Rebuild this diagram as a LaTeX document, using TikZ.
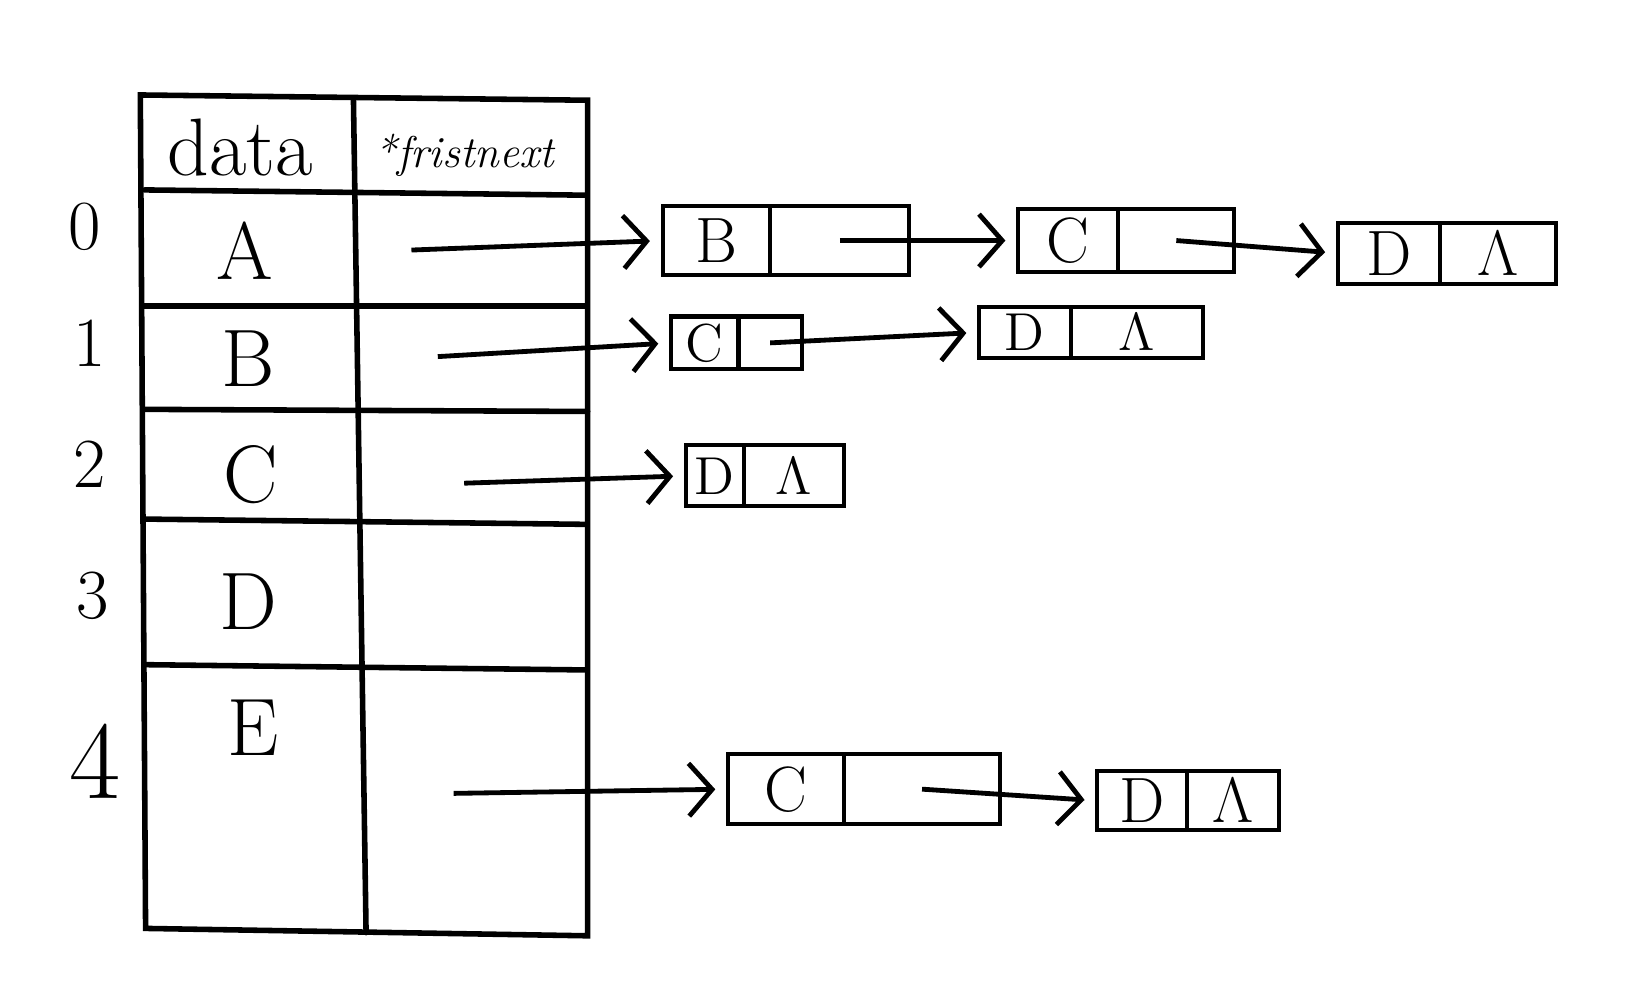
\documentclass[tikz,border=0pt]{standalone}
\usetikzlibrary{arrows.meta, positioning}

\begin{document}
\begin{tikzpicture}[x=0.1mm, y=-0.1mm]
    % --- Style Definitions ---
    \tikzset{
        table line/.style={draw=black, line width=1.5pt, line cap=round},
        index text/.style={font=\fontsize{19}{23}\selectfont},
        head text/.style={font=\fontsize{22}{26}\selectfont},
        cell text/.style={font=\fontsize{22}{26}\selectfont},
        data field/.style={draw=black, line width=1.1pt, inner sep=0pt, outer sep=0pt, font=\LARGE},
        small field/.style={data field, font=\Large},
        link arrow/.style={-{Straight Barb[length=2.2mm, width=5mm]}, line width=1.3pt, shorten >=1.2mm}
    }

    \useasboundingbox (0,0) rectangle (1564,948);

    % ==========================================
    % TABLE
    % ==========================================
    % 1. Outer frame and column divider
    \draw[table line] (133,90) -- (557,95) -- (557,887) -- (138,880) -- cycle;
    \draw[table line] (335,93) -- (347,884);

    % 2. Row lines
    \draw[table line] (137,180) -- (555,185);
    \draw[table line] (137,290) -- (555,290);
    \draw[table line] (137,388) -- (557,390);
    \draw[table line] (137,492) -- (555,497);
    \draw[table line] (137,630) -- (555,635);

    % 3. Header
    \node[head text] (hd_data) at (228,140) {data};
    \node[font=\large\itshape, anchor=west] (hd_next) at (343,147) {*fristnext};

    % 4. Indices and vertices
    \node[index text] (idx_0) at (80,215) {0};
    \node[index text] (idx_1) at (85,325) {1};
    \node[index text] (idx_2) at (85,440) {2};
    \node[index text] (idx_3) at (88,565) {3};
    \node[index text, font=\fontsize{30}{34}\selectfont] (idx_4) at (90,722) {4};

    \node[cell text] (v_0) at (232,238) {A};
    \node[cell text] (v_1) at (235,340) {B};
    \node[cell text] (v_2) at (238,450) {C};
    \node[cell text] (v_3) at (235,570) {D};
    \node[cell text] (v_4) at (240,690) {E};

    % 5. Pointer starts
    \coordinate (ptr_0) at (390,237);
    \coordinate (ptr_1) at (415,338);
    \coordinate (ptr_2) at (440,458);
    \coordinate (ptr_4) at (430,752);

    % ==========================================
    % EDGE LISTS
    % ==========================================
    % Row 0: B -> C -> D
    \node[data field, minimum width=10.2mm, minimum height=6.5mm, anchor=west] (n0_b) at (628,228) {B};
    \node[data field, minimum width=13.2mm, minimum height=6.5mm, right=0pt of n0_b] (n0_bp) {};
    \node[data field, minimum width=9.5mm, minimum height=6mm, anchor=west] (n0_c) at (965,228) {C};
    \node[data field, minimum width=11mm, minimum height=6mm, right=0pt of n0_c] (n0_cp) {};
    \node[data field, minimum width=9.7mm, minimum height=5.8mm, anchor=west] (n0_d) at (1268,240) {D};
    \node[data field, minimum width=11mm, minimum height=5.8mm, right=0pt of n0_d] (n0_dp) {$\Lambda$};

    \draw[link arrow] (ptr_0) -- (n0_b.west);
    \draw[link arrow] (n0_bp.center) -- (n0_c.west);
    \draw[link arrow] (n0_cp.center) -- (n0_d.west);

    % Row 1: C -> D
    \node[small field, minimum width=6.4mm, minimum height=5mm, anchor=west] (n1_c) at (636,325) {C};
    \node[small field, minimum width=6mm, minimum height=5mm, right=0pt of n1_c] (n1_cp) {};
    \node[small field, minimum width=8.7mm, minimum height=4.8mm, anchor=west] (n1_d) at (928,315) {D};
    \node[small field, minimum width=12.5mm, minimum height=4.8mm, right=0pt of n1_d] (n1_dp) {$\Lambda$};

    \draw[link arrow] (ptr_1) -- (n1_c.west);
    \draw[link arrow] (n1_cp.center) -- (n1_d.west);

    % Row 2: D
    \node[small field, minimum width=5.5mm, minimum height=5.8mm, anchor=west] (n2_d) at (650,451) {D};
    \node[small field, minimum width=9.5mm, minimum height=5.8mm, right=0pt of n2_d] (n2_dp) {$\Lambda$};

    \draw[link arrow] (ptr_2) -- (n2_d.west);

    % Row 4: C -> D
    \node[data field, minimum width=11mm, minimum height=6.6mm, anchor=west] (n4_c) at (690,748) {C};
    \node[data field, minimum width=14.8mm, minimum height=6.6mm, right=0pt of n4_c] (n4_cp) {};
    \node[data field, minimum width=8.5mm, minimum height=5.6mm, anchor=west] (n4_d) at (1040,759) {D};
    \node[data field, minimum width=8.7mm, minimum height=5.6mm, right=0pt of n4_d] (n4_dp) {$\Lambda$};

    \draw[link arrow] (ptr_4) -- (n4_c.west);
    \draw[link arrow] (n4_cp.center) -- (n4_d.west);

\end{tikzpicture}
\end{document}
